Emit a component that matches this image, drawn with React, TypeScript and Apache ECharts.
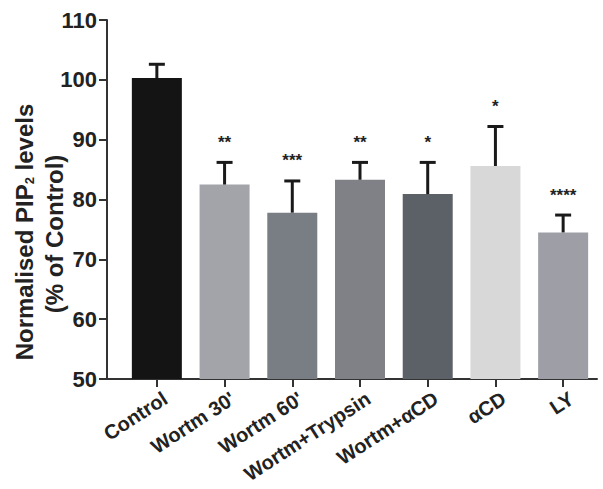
import React, { useEffect, useRef } from "react";
import * as echarts from "echarts";

const categories = ["Control", "Wortm 30'", "Wortm 60'", "Wortm+Trypsin", "Wortm+\u03b1CD", "\u03b1CD", "LY"];
const means = [100.3, 82.5, 77.8, 83.3, 80.9, 85.6, 74.5];
const errorTops = [102.6, 86.2, 83.1, 86.2, 86.2, 92.2, 77.4];
const stars = ["", "**", "***", "**", "*", "*", "****"];
const barColors = ["#141414", "#a3a4a9", "#797e84", "#7f8186", "#5c6167", "#d8d8d8", "#9e9fa6"];
const yTicks = [50, 60, 70, 80, 90, 100, 110];

export default function App() {
  const ref = useRef<HTMLDivElement>(null);
  useEffect(() => {
    if (!ref.current) return;
    const chart = echarts.init(ref.current, undefined, { renderer: "svg" });
    const font = "'Liberation Sans', Arial, sans-serif";
    chart.setOption({
      animation: false,
      backgroundColor: "#ffffff",
      grid: { left: 123, right: 6, top: 20, bottom: 110, containLabel: false, outerBoundsMode: "none" },
      xAxis: {
        type: "category",
        data: categories,
        axisLine: { show: true, lineStyle: { color: "#333", width: 2 } },
        axisTick: { show: true, alignWithLabel: true, length: 8, lineStyle: { color: "#333", width: 2 } },
        axisLabel: {
          rotate: 33,
          interval: 0,
          margin: 23,
          padding: [0, -10, 0, 0],
          fontFamily: font,
          fontWeight: "bold",
          fontSize: 20,
          color: "#222",
        },
      },
      yAxis: {
        type: "value",
        min: yTicks[0],
        max: yTicks[yTicks.length - 1],
        interval: 10,
        offset: 16,
        axisLine: { show: true, lineStyle: { color: "#333", width: 2 } },
        axisTick: { show: true, length: 8, lineStyle: { color: "#333", width: 2 } },
        splitLine: { show: false },
        axisLabel: {
          margin: 10,
          fontFamily: font,
          fontWeight: "bold",
          fontSize: 22,
          color: "#222",
        },
      },
      graphic: [
        {
          type: "line",
          shape: { x1: 106, y1: 379, x2: 124, y2: 379 },
          style: { stroke: "#333", lineWidth: 2 },
        },
        {
          type: "text",
          x: 24,
          y: 232,
          rotation: Math.PI / 2,
          style: {
            text: "Normalised PIP{sub|2} levels",
            rich: { sub: { fontSize: 13, fontWeight: "bold", fontFamily: font, fill: "#222", padding: [11, 0, 0, 0] } },
            fontFamily: font,
            fontWeight: "bold",
            fontSize: 24,
            fill: "#222",
            align: "center",
            verticalAlign: "middle",
          },
        },
        {
          type: "text",
          x: 54,
          y: 234,
          rotation: Math.PI / 2,
          style: {
            text: "(% of Control)",
            fontFamily: font,
            fontWeight: "bold",
            fontSize: 24,
            fill: "#222",
            align: "center",
            verticalAlign: "middle",
          },
        },
      ],
      series: [
        {
          type: "bar",
          barWidth: 50,
          data: means.map((v, i) => ({ value: v, itemStyle: { color: barColors[i] } })),
        },
        {
          type: "custom",
          data: means.map((v, i) => [i, v, errorTops[i], stars[i]]),
          z: 5,
          renderItem: (params: any, api: any) => {
            const i = api.value(0);
            const base = api.coord([i, api.value(1)]);
            const top = api.coord([i, api.value(2)]);
            const starText = stars[i];
            const half = 8;
            const children: any[] = [
              {
                type: "line",
                shape: { x1: base[0], y1: base[1], x2: top[0], y2: top[1] },
                style: { stroke: "#1a1a1a", lineWidth: 3 },
              },
              {
                type: "line",
                shape: { x1: top[0] - half, y1: top[1], x2: top[0] + half, y2: top[1] },
                style: { stroke: "#1a1a1a", lineWidth: 3 },
              },
            ];
            if (starText) {
              children.push({
                type: "text",
                x: top[0],
                y: top[1] - 20,
                style: {
                  text: starText,
                  fontFamily: font,
                  fontWeight: "bold",
                  fontSize: 17,
                  fill: "#222",
                  align: "center",
                  verticalAlign: "middle",
                },
              });
            }
            return { type: "group", children };
          },
        },
      ],
    });
    return () => chart.dispose();
  }, []);
  return <div ref={ref} style={{ width: 603, height: 489, position: "absolute", left: 0, top: 0 }} />;
}
